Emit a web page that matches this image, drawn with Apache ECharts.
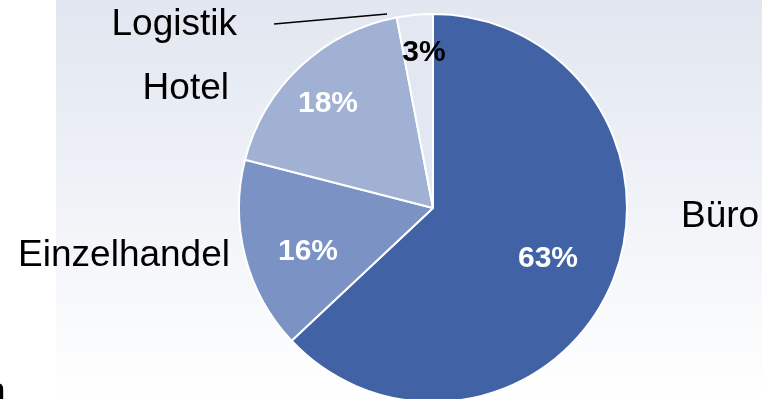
<!DOCTYPE html>
<html><head><meta charset="utf-8">
<script src="https://cdn.jsdelivr.net/npm/echarts@6/dist/echarts.min.js"></script>
<style>html,body{margin:0;padding:0;background:#fff}#c{width:762px;height:399px}</style>
</head><body><div id="c"></div>
<script>
// ---- data ----
const categories = ['Büro', 'Einzelhandel', 'Hotel', 'Logistik'];
const shares = [63, 16, 18, 3];

// ---- styling / layout ----
const sliceColors = ['#4163A5', '#7A92C4', '#A0B1D4', '#E3E7F1'];
const pctColors = ['#ffffff', '#ffffff', '#ffffff', '#000000'];
const CX = 433, CY = 208, R = 194;
// label anchors relative to the pie centre
const pctPos = [[115, 51], [-125, 44], [-105, -104], [-9, -155]];
const namePos = [[248, 8.5, 'left'], [-203, 48, 'right'], [-204, -119.5, 'right'], [-196, -183, 'right']];
const leaderPts = [[-46, -194], [-159, -184]];
const FONT = '"Liberation Sans", Arial, sans-serif';

const chart = echarts.init(document.getElementById('c'), null, {renderer: 'canvas'});

const sliceData = categories.map((n, i) => ({
  name: n, value: shares[i],
  itemStyle: {color: sliceColors[i]},
  label: {color: pctColors[i]}
}));
const nameData = categories.map((n, i) => ({
  name: n, value: shares[i],
  labelLine: {show: i === 3}
}));

chart.setOption({
  animation: false,
  graphic: [
    {type: 'rect', z: -10, shape: {x: 56, y: 0, width: 706, height: 399},
     style: {fill: new echarts.graphic.LinearGradient(0, 0, 0, 1, [
       {offset: 0, color: '#E1E6F0'}, {offset: 1, color: '#FFFFFF'}])}},
    {type: 'text', x: -15, y: 392.5, style: {text: 'n', font: '37px ' + FONT, fill: '#000', verticalAlign: 'middle'}}
  ],
  series: [
    {
      type: 'pie', silent: true,
      center: [CX, CY], radius: R,
      startAngle: 90, clockwise: true,
      avoidLabelOverlap: false,
      itemStyle: {borderColor: '#ffffff', borderWidth: 2},
      label: {show: true, position: 'inside', formatter: '{c}%',
        fontSize: 30, fontWeight: 'bold', fontFamily: FONT},
      labelLine: {show: false},
      labelLayout: p => ({
        x: CX + pctPos[p.dataIndex][0], y: CY + pctPos[p.dataIndex][1],
        align: 'center', verticalAlign: 'middle'
      }),
      data: sliceData
    },
    {
      type: 'pie', silent: true,
      center: [CX, CY], radius: R,
      startAngle: 90, clockwise: true,
      avoidLabelOverlap: false,
      itemStyle: {color: 'rgba(0,0,0,0)', borderWidth: 0},
      label: {show: true, position: 'outside', formatter: '{b}',
        fontSize: 37, color: '#000', fontFamily: FONT},
      labelLine: {show: false, lineStyle: {color: '#000', width: 1.5}},
      labelLayout: p => {
        const np = namePos[p.dataIndex];
        const o = {x: CX + np[0], y: CY + np[1], align: np[2], verticalAlign: 'middle'};
        if (p.dataIndex === 3) {
          o.labelLinePoints = leaderPts.map(q => [CX + q[0], CY + q[1]]);
        }
        return o;
      },
      data: nameData
    }
  ]
});
</script>
</body></html>
